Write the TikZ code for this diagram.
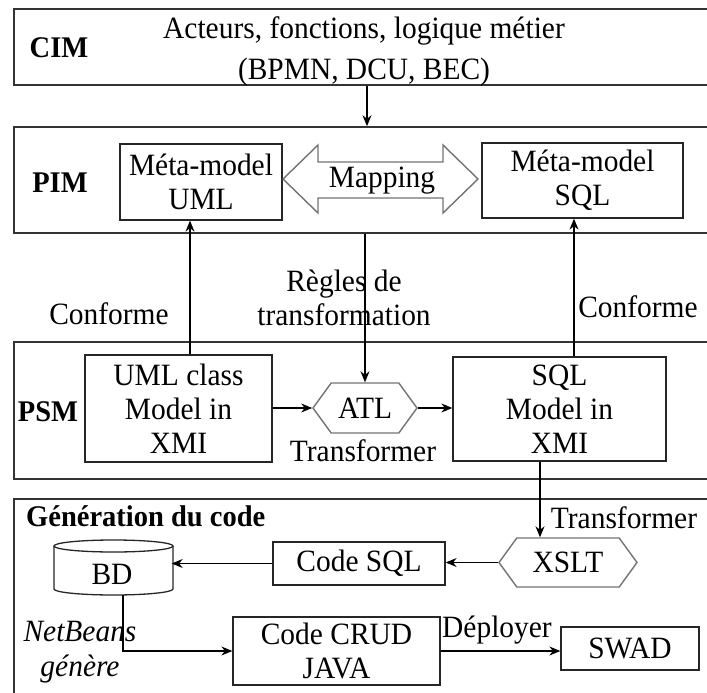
\documentclass[tikz,border=0pt]{standalone}
\usepackage{fontspec}
\setmainfont{Liberation Serif}[FakeStretch=0.95]
\usetikzlibrary{arrows.meta,shapes.symbols}
\begin{document}
\begin{tikzpicture}[x=1pt,y=-1pt,
  frame/.style={draw=black!80,line width=1.6pt,inner sep=0pt,minimum width=716pt},
  box/.style={draw=black!85,line width=1.3pt,inner sep=0pt,align=center},
  hexa/.style={signal,signal to=west and east,signal pointer angle=108,draw=black!55,line width=1.4pt,inner sep=0pt},
  arr/.style={-{Stealth[length=11pt,width=9pt]},line width=1.1pt},
  txt/.style={inner sep=0pt,align=center},
  font=\fontsize{31}{34}\selectfont]
\clip (0,0) rectangle (707,693);
% frames
\node[frame,minimum height=76pt] (cim) at (372,47) {};
\node[frame,minimum height=106pt] (pim) at (372,180) {};
\node[frame,minimum height=137pt] (psm) at (372,410.5) {};
\node[frame,minimum height=221pt] (gen) at (372,609.5) {};
% frame titles
\node[txt,font=\fontsize{30}{34}\selectfont\bfseries] (tcim) at (59,48) {CIM};
\node[txt,font=\fontsize{31}{41}\selectfont] (tcimtext) at (364,51) {Acteurs, fonctions, logique métier\\(BPMN, DCU, BEC)};
\node[txt,font=\fontsize{30}{34}\selectfont\bfseries] (tpim) at (60,183) {PIM};
\node[txt,font=\fontsize{30}{34}\selectfont\bfseries] (tpsm) at (48,412) {PSM};
\node[txt,font=\fontsize{30}{34}\selectfont\bfseries,anchor=west] (tgen) at (26,516) {Génération du code};
% PIM
\node[box,minimum width=162pt,minimum height=76pt] (umlmeta) at (201,182) {Méta-model\\UML};
\node[box,minimum width=201pt,minimum height=75pt] (sqlmeta) at (582.5,180.5) {Méta-model\\SQL};
\draw[draw=black!55,line width=1.4pt] (283,179) -- (318,145) -- (318,162) -- (443,162) -- (443,145) -- (478,179)
  -- (443,213) -- (443,198) -- (318,198) -- (318,213) -- cycle;
\node[txt] (mapping) at (382,181) {Mapping};
% PSM
\node[box,minimum width=187pt,minimum height=107pt] (umlxmi) at (178.5,408.5) {UML class\\Model in\\XMI};
\node[hexa,minimum width=104pt,minimum height=50pt] (atl) at (365,408) {ATL};
\node[box,minimum width=213pt,minimum height=104pt] (sqlxmi) at (559.5,409) {SQL\\Model in\\XMI};
\node[txt] (ttrans1) at (363,451) {Transformer};
% between
\node[txt] (tregles) at (344,298) {Règles de\\transformation};
\node[txt] (tconf1) at (109,314) {Conforme};
\node[txt] (tconf2) at (638,307) {Conforme};
% generation
\node[hexa,minimum width=138pt,minimum height=49pt] (xslt) at (568,562.5) {XSLT};
\node[txt] (ttrans2) at (624,518) {Transformer};
\node[box,minimum width=172pt,minimum height=43pt] (codesql) at (359,563.5) {Code SQL};
\node[inner sep=0pt,minimum width=119pt,minimum height=49pt] (bd) at (112,574) {BD};
\draw[draw=black!85,line width=1.3pt] (54,546) -- (54,589) arc[start angle=180,end angle=360,x radius=59.5pt,y radius=6pt] -- (173,546);
\draw[draw=black!85,line width=1.3pt] (113.5,546) ellipse[x radius=59.5pt,y radius=6pt];
\node[box,minimum width=207pt,minimum height=68pt] (crud) at (336.5,651) {Code CRUD\\JAVA};
\node[box,minimum width=138pt,minimum height=43pt] (swad) at (630,648.5) {SWAD};
\node[txt,font=\fontsize{31}{35}\selectfont\itshape] (tnet) at (80,652) {NetBeans\\génère};
\node[txt] (tdep) at (497,630) {Déployer};
% helper coordinates
\coordinate (xc) at (367,0);
\coordinate (xl) at (190,0);
\coordinate (xr) at (574,0);
\coordinate (xd) at (540,0);
\coordinate (xb) at (123,595);
% connectors
\draw[arr] (cim.south -| xc) -- (pim.north -| xc);
\draw[arr] (umlxmi.north -| xl) -- (umlmeta.south -| xl);
\draw[arr] (sqlxmi.north -| xr) -- (sqlmeta.south -| xr);
\draw[arr] (pim.south -| atl.north) -- (atl.north);
\draw[arr] (umlxmi.east |- atl.west) -- (atl.west);
\draw[arr] (atl.east) -- (sqlxmi.west |- atl.east);
\draw[arr] (sqlxmi.south -| xd) -- (xslt.north -| xd);
\draw[arr] (xslt.west) -- (codesql.east |- xslt.west);
\draw[arr] (codesql.west) -- (bd.east |- codesql.west);
\draw[arr] (xb) |- (crud.west);
\draw[arr] (crud.east) -- (swad.west |- crud.east);
\end{tikzpicture}
\end{document}
